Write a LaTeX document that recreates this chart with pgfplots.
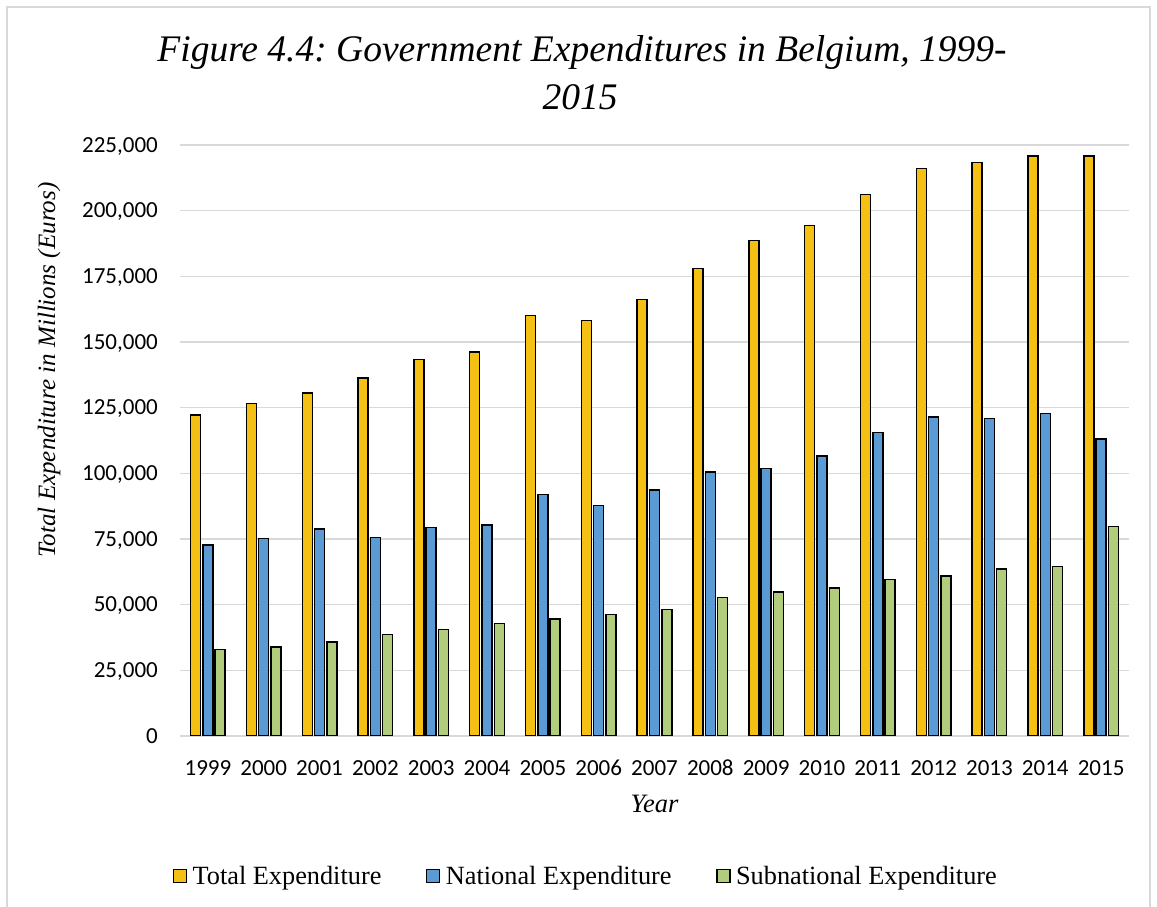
\documentclass[border=0pt]{standalone}
\usepackage{pgfplots}
\pgfplotsset{compat=1.18}
\usepackage{fontspec}
\setmainfont{Liberation Serif}
\newfontfamily\carlito{Carlito}
\definecolor{cTot}{RGB}{245,192,20}
\definecolor{cNat}{RGB}{91,155,213}
\definecolor{cSub}{RGB}{178,204,125}
\definecolor{gridc}{RGB}{217,217,217}
\frenchspacing
\begin{document}
\begin{tikzpicture}[x=1pt,y=1pt]
\useasboundingbox (0,0) rectangle (1157,907);
\draw[gridc, line width=1.5pt] (7,0) -- (7,900) -- (1150,900) -- (1150,0);
\node[font=\fontsize{37.5pt}{37.5pt}\selectfont\itshape, anchor=base] at (582,845) {Figure 4.4: Government Expenditures in Belgium, 1999-};
\node[font=\fontsize{37.5pt}{37.5pt}\selectfont\itshape, anchor=base] at (580,797) {2015};
\begin{axis}[
  at={(180pt,171pt)}, anchor=south west,
  scale only axis, width=949pt, height=591pt,
  ybar=2.3pt, bar width=10pt,
  xmin=-0.5, xmax=16.5, ymin=0, ymax=225000,
  xtick={0,...,16},
  xticklabels={1999,2000,2001,2002,2003,2004,2005,2006,2007,2008,2009,2010,2011,2012,2013,2014,2015},
  ytick={0,25000,50000,75000,100000,125000,150000,175000,200000,225000},
  scaled y ticks=false,
  ymajorgrids, grid style={gridc, line width=1.5pt},
  axis line style={draw=none},
  major tick length=0pt,
  xticklabel style={font=\carlito\fontsize{23pt}{23pt}\selectfont, anchor=base, yshift=-39.7pt},
  yticklabel style={font=\carlito\fontsize{23pt}{23pt}\selectfont, anchor=base east, inner sep=0pt, xshift=-22pt, yshift=-7.2pt,
    /pgf/number format/.cd, fixed, 1000 sep={,}, assume math mode=true},
  xlabel={Year},
  xlabel style={font=\fontsize{26.5pt}{26.5pt}\selectfont\itshape, at={(axis description cs:0.5,-0.1286)}, anchor=base},
  ylabel={Total Expenditure in Millions (Euros)},
  ylabel style={font=\fontsize{25pt}{25pt}\selectfont\itshape, at={(axis description cs:-0.1380,0.619)}, anchor=center},
  legend columns=3,
  legend style={at={(axis description cs:0.4294,-0.237)}, anchor=center, draw=none,
    font=\fontsize{26.3pt}{26.3pt}\selectfont,
    nodes={inner xsep=5.5pt},
    /tikz/every even column/.append style={column sep=39pt}},
  legend image code/.code={\draw[#1,draw=black,line width=1.5pt] (0pt,-6.5pt) rectangle (13pt,6.5pt);},
]
\addplot[fill=cTot, draw=black, line width=1.5pt] coordinates {
(0,122200) (1,126500) (2,130600) (3,136200) (4,143300) (5,146100) (6,160000) (7,158100) (8,166100)
(9,177900) (10,188600) (11,194300) (12,206100) (13,216100) (14,218300) (15,220800) (16,220900)};
\addplot[fill=cNat, draw=black, line width=1.5pt] coordinates {
(0,72700) (1,75100) (2,78800) (3,75500) (4,79300) (5,80300) (6,91900) (7,87800) (8,93700)
(9,100500) (10,101800) (11,106600) (12,115500) (13,121400) (14,120900) (15,122800) (16,113100)};
\addplot[fill=cSub, draw=black, line width=1.5pt] coordinates {
(0,32900) (1,33900) (2,35700) (3,38700) (4,40600) (5,42800) (6,44500) (7,46200) (8,48200)
(9,52700) (10,54900) (11,56300) (12,59500) (13,60900) (14,63500) (15,64500) (16,79800)};
\legend{Total Expenditure, National Expenditure, Subnational Expenditure}
\end{axis}
\end{tikzpicture}
\end{document}
